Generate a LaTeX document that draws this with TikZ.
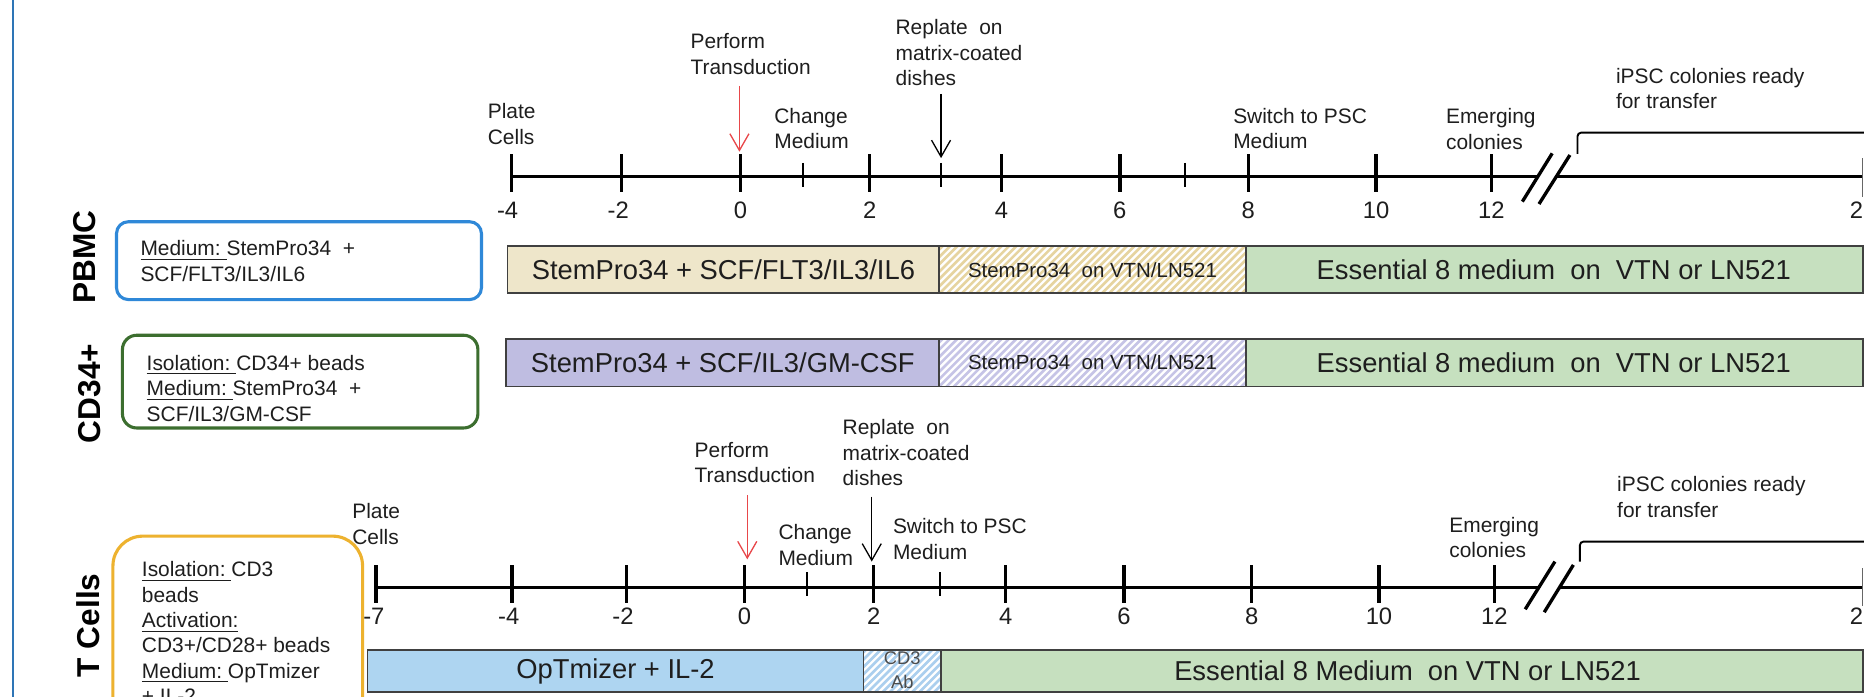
\documentclass[tikz,border=0pt]{standalone}
\usepackage{fontspec}
\setmainfont{Liberation Sans}
\usetikzlibrary{arrows.meta}
\definecolor{txt}{HTML}{1E1E1E}
\definecolor{frameblue}{HTML}{2E75B6}
\definecolor{pbmcblue}{HTML}{2F88D8}
\definecolor{cdgreen}{HTML}{3C6E2F}
\definecolor{tgold}{HTML}{EDB22F}
\definecolor{tanfill}{HTML}{EEE6CA}
\definecolor{tanstripe}{HTML}{E6D4A0}
\definecolor{lavfill}{HTML}{BFBDE1}
\definecolor{lavstripe}{HTML}{C6C4E6}
\definecolor{bluefill}{HTML}{AED5F1}
\definecolor{bluestripe}{HTML}{ABCFEE}
\definecolor{greenfill}{HTML}{C6E0BF}
\definecolor{barline}{HTML}{404040}
\definecolor{arrred}{HTML}{E8474A}
\newcommand\annfont{\fontsize{8.8pt}{10.7pt}\selectfont}
\newcommand\numfont{\fontsize{10pt}{12pt}\selectfont}
\newcommand\barfont{\fontsize{11.5pt}{13pt}\selectfont}
\newcommand\hatchfont{\fontsize{8.6pt}{10pt}\selectfont}
\newcommand\smallabfont{\fontsize{7.7pt}{10pt}\selectfont}
\newcommand\rowfont{\fontsize{13.3pt}{15pt}\selectfont\bfseries}
\begin{document}
\begin{tikzpicture}[x=0.5pt,y=-0.5pt,
  ann/.style={font=\annfont, text=txt, align=left, inner sep=0pt, anchor=north west},
  num/.style={font=\numfont, text=txt, inner sep=0pt},
  axisline/.style={line width=1.4pt, black},
  majortick/.style={line width=1.4pt, black},
  minortick/.style={line width=0.9pt, black},
  endtick/.style={line width=0.5pt, black!60},
  brk/.style={line width=1.4pt, black},
  bracketline/.style={line width=0.8pt, black, rounded corners=1.5pt},
  bar/.style={draw=barline, line width=0.7pt},
  infobox/.style={line width=1.3pt, fill=white},
  stripe/.style={line width=1.1pt},
  redarr/.style={arrred, line width=0.55pt, -{Straight Barb[length=7pt,width=8pt]}},
  blkarr/.style={black, line width=0.55pt, -{Straight Barb[length=7pt,width=8pt]}},
  rowlab/.style={font=\rowfont, text=black, rotate=90, inner sep=0pt},
  bartext/.style={font=\barfont, text=txt, inner sep=0pt},
  hatchtext/.style={font=\hatchfont, text=txt, inner sep=0pt},
  boxtext/.style={font=\annfont, text=txt, align=left, inner sep=0pt, anchor=north west}
]
\useasboundingbox (0,0) rectangle (1568,585.5);
\clip (0,0) rectangle (1568,585.5);
\fill[white] (0,0) rectangle (1568,585.5);

% left frame line
\draw[frameblue, line width=1.15pt] (11,-5) -- (11,600);

% ================= row labels =================
\node[rowlab] (lpbmc) at (71.5,216) {PBMC};
\node[rowlab] (lcd34) at (75,331) {CD34+};
\node[rowlab] (ltc) at (74.5,526) {T Cells};

% ================= info boxes =================
\draw[infobox, draw=pbmcblue, rounded corners=5pt] (98,186.5) rectangle (405,252);
\node[boxtext] (tpbmc) at (117.8,201.9) {\underline{Medium:\ }StemPro34\ \ +\\SCF/FLT3/IL3/IL6};

\draw[infobox, draw=cdgreen, rounded corners=6pt] (103,282) rectangle (402,360);
\node[boxtext] (tcd34) at (123,298.4) {\underline{Isolation:\ }CD34+ beads\\\underline{Medium:\ }StemPro34\ \ +\\SCF/IL3/GM-CSF};

\draw[infobox, draw=tgold, rounded corners=12.5pt] (95,451) rectangle (305,640);
\node[boxtext] (ttc) at (119,471.9) {\underline{Isolation:\ }CD3\\beads\\\underline{Activation:}\\CD3+/CD28+ beads\\\underline{Medium:\ }OpTmizer\\+ IL-2};

% ================= timeline 1 (PBMC / CD34+) =================
\draw[axisline] (430,148.6) -- (1293.6,148.6);
\draw[axisline] (1309.1,148.6) -- (1566,148.6);
\foreach \xx in {430,523,622.8,731.6,842.5,942,1050,1157.5,1254.5}
  \draw[majortick] (\xx,129.6) -- (\xx,161.6);
\foreach \xx in {675.3,791.6,997}
  \draw[minortick] (\xx,137) -- (\xx,157);
\draw[endtick] (1566.5,133) -- (1566.5,165.4);
\draw[brk] (1280.6,169.6) -- (1305.7,129);
\draw[brk] (1294.6,171.6) -- (1320.6,130.4);
\foreach \lab/\xx in {-4/427,-2/520,0/622.8,2/731.6,4/842.5,6/942,8/1050,10/1157.5,12/1254.5}
  \node[num] at (\xx,176.6) {\lab};
\node[num, anchor=west] (n1end) at (1555.7,176.6) {2};

\node[ann] (a1plate) at (410,86.9) {Plate\\Cells};
\node[ann] (a1perf) at (580.5,28) {Perform\\Transduction};
\node[ann] (a1chg) at (651,90.4) {Change\\Medium};
\node[ann] (a1repl) at (753,16) {Replate\ \ on\\matrix-coated\\dishes};
\node[ann] (a1sw) at (1037,90.4) {Switch to PSC\\Medium};
\node[ann] (a1em) at (1216,91) {Emerging\\colonies};
\node[ann] (a1ipsc) at (1359,57) {iPSC colonies\ ready\\for transfer};

\coordinate (r1s) at (622,72.3);
\coordinate (r1e) at (622,127.6);
\coordinate (b1s) at (791.6,79);
\coordinate (b1e) at (791.6,133);
\draw[redarr] (r1s) -- (r1e);
\draw[blkarr] (b1s) -- (b1e);
\coordinate (k1a) at (1327,129.5);
\coordinate (k1b) at (1327,111.6);
\coordinate (k1c) at (1580,111.6);
\draw[bracketline] (k1a) -- (k1b) -- (k1c);

% ================= PBMC bar =================
\fill[tanfill] (427,207) rectangle (790,246.5);
\begin{scope}
  \clip (790,207) rectangle (1048,246.5);
  \foreach \k in {0,...,52}
    \draw[tanstripe, stripe] ({750+\k*6.2},250) -- ++(46,-46);
\end{scope}
\fill[greenfill] (1048,207) rectangle (1567,246.5);
\draw[bar] (427,207) rectangle (790,246.5);
\draw[bar] (790,207) rectangle (1048,246.5);
\draw[bar] (1048,207) rectangle (1567,246.5);
\node[bartext] (p1) at (608.5,227) {StemPro34 + SCF/FLT3/IL3/IL6};
\node[hatchtext] (p2) at (919,227) {StemPro34\ \ on VTN/LN521};
\node[bartext] (p3) at (1307,227) {Essential 8 medium\ \ on\ \ VTN\ or LN521};

% ================= CD34+ bar =================
\fill[lavfill] (425.6,285) rectangle (790,325);
\begin{scope}
  \clip (790,285) rectangle (1048,325);
  \foreach \k in {0,...,52}
    \draw[lavstripe, stripe] ({750+\k*6.2},328) -- ++(46,-46);
\end{scope}
\fill[greenfill] (1048,285) rectangle (1567,325);
\draw[bar] (425.6,285) rectangle (790,325);
\draw[bar] (790,285) rectangle (1048,325);
\draw[bar] (1048,285) rectangle (1567,325);
\node[bartext] (c1) at (608,305) {StemPro34 + SCF/IL3/GM-CSF};
\node[hatchtext] (c2) at (919,305) {StemPro34\ \ on VTN/LN521};
\node[bartext] (c3) at (1307,305) {Essential 8 medium\ \ on\ \ VTN\ or LN521};

% ================= timeline 2 (T cells) =================
\draw[axisline] (316.2,494.3) -- (1294.3,494.3);
\draw[axisline] (1311.7,494.3) -- (1566,494.3);
\foreach \xx in {316.2,430.8,527,626.2,735,846,945.5,1053,1160,1257}
  \draw[majortick] (\xx,475.3) -- (\xx,507.3);
\foreach \xx in {678.8,791}
  \draw[minortick] (\xx,481.5) -- (\xx,501);
\draw[endtick] (1566.5,478) -- (1566.5,510);
\draw[brk] (1283,512.5) -- (1308,472.4);
\draw[brk] (1299,515) -- (1323.5,475.2);
\foreach \lab/\xx in {-7/314.5,-4/428,-2/524,0/626.2,2/735,4/846,6/945.5,8/1053,10/1160,12/1257}
  \node[num] at (\xx,518.5) {\lab};
\node[num, anchor=west] (n2end) at (1555.7,518.5) {2};

\node[ann] (a2plate) at (296,423.4) {Plate\\Cells};
\node[ann] (a2perf) at (584,371.4) {Perform\\Transduction};
\node[ann] (a2chg) at (654.5,440.8) {Change\\Medium};
\node[ann] (a2repl) at (708.5,352.4) {Replate\ \ on\\matrix-coated\\dishes};
\node[ann] (a2sw) at (750.8,436) {Switch to PSC\\Medium};
\node[ann] (a2em) at (1218.8,434.6) {Emerging\\colonies};
\node[ann] (a2ipsc) at (1360,400.4) {iPSC colonies\ ready\\for transfer};

\coordinate (r2s) at (628.6,416.4);
\coordinate (r2e) at (628.6,470.5);
\coordinate (b2s) at (733.3,417.8);
\coordinate (b2e) at (733.3,472.4);
\draw[redarr] (r2s) -- (r2e);
\draw[blkarr] (b2s) -- (b2e);
\coordinate (k2a) at (1329,472.4);
\coordinate (k2b) at (1329,455.6);
\coordinate (k2c) at (1580,455.6);
\draw[bracketline] (k2a) -- (k2b) -- (k2c);

% ================= T cell bar =================
\fill[bluefill] (309,547) rectangle (726.5,582);
\begin{scope}
  \clip (726.5,547) rectangle (791.6,582);
  \foreach \k in {0,...,18}
    \draw[bluestripe, stripe] ({690+\k*6.2},585) -- ++(42,-42);
\end{scope}
\fill[greenfill] (791.6,547) rectangle (1567,582);
\draw[bar] (309,547) rectangle (726.5,582);
\draw[bar] (726.5,547) rectangle (791.6,582);
\draw[bar] (791.6,547) rectangle (1567,582);
\node[bartext] (t1) at (517.8,564.5) {OpTmizer + IL-2};
\node[font=\smallabfont, text=black!70, align=center, inner sep=0pt] (t2) at (759,564) {CD3\\Ab};
\node[bartext] (t3) at (1184,564.5) {Essential 8 Medium\ \ on VTN or LN521};

\end{tikzpicture}
\end{document}
